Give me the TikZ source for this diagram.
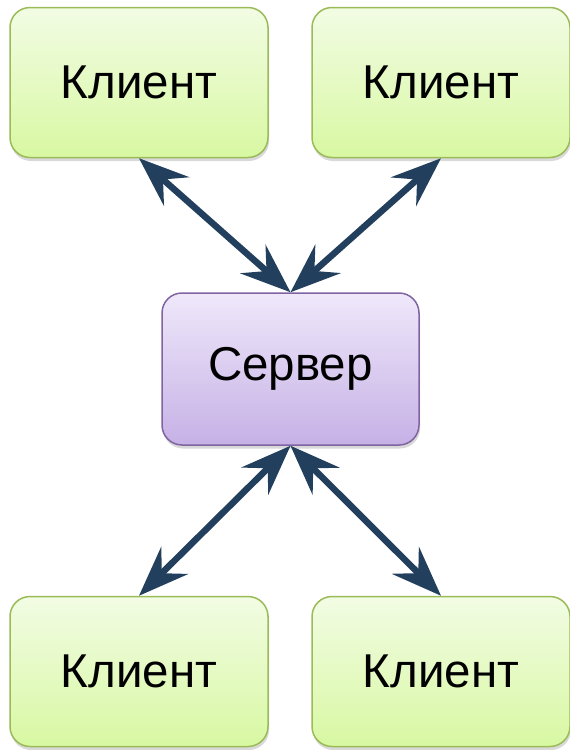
\documentclass[tikz,border=0pt]{standalone}
\usepackage{fontspec}
\setmainfont{Liberation Sans}
\usetikzlibrary{arrows.meta,shadows}

\definecolor{clientTop}{HTML}{F2FCE4}
\definecolor{clientBottom}{HTML}{D8F8A2}
\definecolor{clientLine}{HTML}{9BBB59}
\definecolor{serverTop}{HTML}{EFE8FA}
\definecolor{serverBottom}{HTML}{C6B1E6}
\definecolor{serverLine}{HTML}{8064A2}
\definecolor{linkColor}{HTML}{233F5E}

\tikzset{
  boxbase/.style={rounded corners=20pt, line width=1.5pt, align=center,
    font=\fontsize{47.5}{52}\selectfont,
    drop shadow={opacity=0.3, shadow xshift=1pt, shadow yshift=-3.5pt}},
  clientbox/.style={boxbase, draw=clientLine, top color=clientTop,
    bottom color=clientBottom, minimum width=258pt, minimum height=150pt},
  serverbox/.style={boxbase, draw=serverLine, top color=serverTop,
    bottom color=serverBottom, minimum width=257pt, minimum height=152pt},
  link/.style={draw=linkColor, line width=6.5pt,
    {Stealth[length=50pt, width=38pt, inset=18pt]}-{Stealth[length=50pt, width=38pt, inset=18pt]}}
}

\begin{document}
\begin{tikzpicture}[x=1pt,y=-1pt]
  % page area
  \useasboundingbox (0,0) rectangle (570,750);

  % boxes
  \node[clientbox] (c1) at (139,82.5) {Клиент};
  \node[clientbox] (c2) at (441,82.5) {Клиент};
  \node[serverbox] (srv) at (290.5,369) {Сервер};
  \node[clientbox] (c3) at (139,671.5) {Клиент};
  \node[clientbox] (c4) at (441,671.5) {Клиент};

  % two-way links between each client and the server
  \draw[link] (c1.south) -- (srv.north);
  \draw[link] (c2.south) -- (srv.north);
  \draw[link] (srv.south) -- (c3.north);
  \draw[link] (srv.south) -- (c4.north);
\end{tikzpicture}
\end{document}
